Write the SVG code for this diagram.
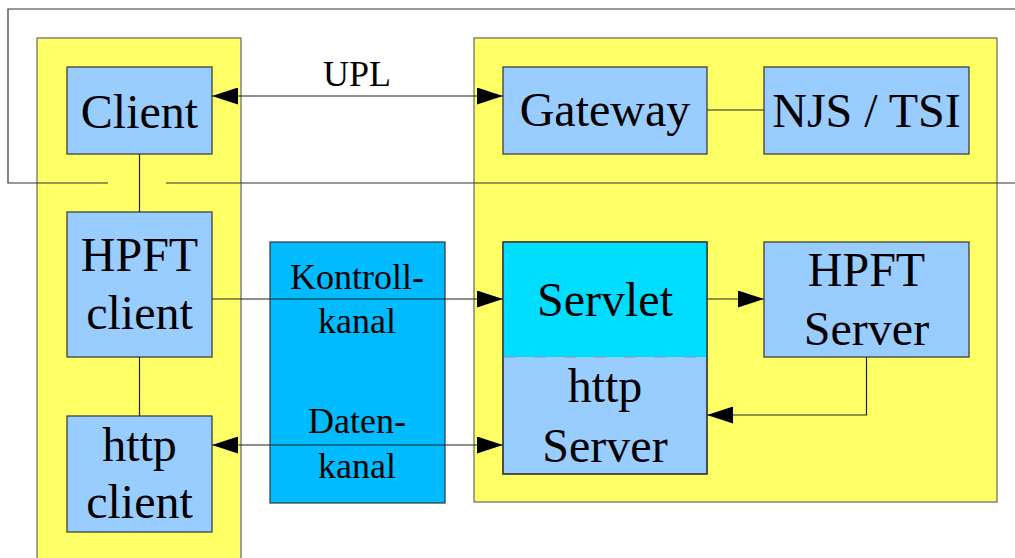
<svg xmlns="http://www.w3.org/2000/svg" width="1015" height="558" viewBox="0 0 1015 558">
  <defs>
    <style>
      .panel { fill: #ffff66; stroke: #666666; stroke-width: 1.2; }
      .box { fill: #99ccff; stroke: #333333; stroke-width: 1.2; }
      .servlet { fill: #00ddff; stroke: none; }
      .channel { fill: #00bbff; stroke: #333333; stroke-width: 1.2; }
      .frame { fill: none; stroke: #333333; stroke-width: 1.2; }
      .wire { fill: none; stroke: #222222; stroke-width: 1.2; }
      .divider { fill: none; stroke: #77aacc; stroke-width: 1.5; stroke-dasharray: 12 18; }
    </style>
    <marker id="arrow" viewBox="0 0 26 17" markerUnits="userSpaceOnUse" markerWidth="26" markerHeight="17" refX="26" refY="8.5" orient="auto-start-reverse">
      <path d="M0,0 L26,8.5 L0,17 z" fill="#000000"/>
    </marker>
  </defs>

  <rect width="1015" height="558" fill="#ffffff"/>

  <!-- client side and server side areas -->
  <g id="client-area">
    <rect class="panel" x="37" y="38" width="204" height="530"/>
  </g>
  <g id="server-area">
    <rect class="panel" x="474" y="38" width="523" height="464"/>
  </g>

  <!-- outer boundary -->
  <g id="boundary">
    <polyline class="frame" points="1020,9 8,9 8,183 108,183"/>
    <line class="frame" x1="166" y1="183" x2="1020" y2="183"/>
  </g>

  <g id="channel-area">
    <rect class="channel" x="270" y="242" width="175" height="261"/>
  </g>

  <!-- connectors -->
  <g id="connectors">
    <line class="wire" x1="139.5" y1="154" x2="139.5" y2="212"/>
    <line class="wire" x1="139.5" y1="357" x2="139.5" y2="416"/>
    <line class="wire" x1="707" y1="110" x2="764" y2="110"/>
    <line class="wire" x1="212" y1="96" x2="503" y2="96" marker-start="url(#arrow)" marker-end="url(#arrow)"/>
    <line class="wire" x1="212" y1="299" x2="503" y2="299" marker-end="url(#arrow)"/>
    <line class="wire" x1="212" y1="445" x2="503" y2="445" marker-start="url(#arrow)" marker-end="url(#arrow)"/>
    <line class="wire" x1="707" y1="299" x2="764" y2="299" marker-end="url(#arrow)"/>
    <polyline class="wire" points="866.5,357 866.5,415 707,415" marker-end="url(#arrow)"/>
  </g>

  <g id="client">
    <rect class="box" x="67" y="67" width="145" height="87"/>
    <text x="139.5" y="128" font-size="48" font-family="Times New Roman, Liberation Serif, serif" text-anchor="middle">Client</text>
  </g>
  <g id="gateway">
    <rect class="box" x="503" y="67" width="204" height="87"/>
    <text x="605" y="126" font-size="48" font-family="Times New Roman, Liberation Serif, serif" text-anchor="middle">Gateway</text>
  </g>
  <g id="njs-tsi">
    <rect class="box" x="764" y="67" width="205" height="87"/>
    <text x="866.5" y="127" font-size="48" font-family="Times New Roman, Liberation Serif, serif" text-anchor="middle">NJS / TSI</text>
  </g>
  <g id="hpft-client">
    <rect class="box" x="67" y="212" width="145" height="145"/>
    <text x="139.5" y="271" font-size="48" font-family="Times New Roman, Liberation Serif, serif" text-anchor="middle">HPFT</text>
    <text x="139.5" y="329" font-size="48" font-family="Times New Roman, Liberation Serif, serif" text-anchor="middle">client</text>
  </g>
  <g id="http-client">
    <rect class="box" x="67" y="416" width="145" height="116"/>
    <text x="139.5" y="461" font-size="48" font-family="Times New Roman, Liberation Serif, serif" text-anchor="middle">http</text>
    <text x="139.5" y="518" font-size="48" font-family="Times New Roman, Liberation Serif, serif" text-anchor="middle">client</text>
  </g>
  <g id="servlet-http-server">
    <rect class="box" x="503" y="242" width="204" height="232"/>
    <rect class="servlet" x="503.6" y="242.6" width="202.8" height="114.4"/>
    <rect x="503" y="242" width="204" height="232" fill="none" stroke="#333333" stroke-width="1.2"/>
    <line class="divider" x1="504" y1="357" x2="706" y2="357"/>
    <text x="605" y="316" font-size="48" font-family="Times New Roman, Liberation Serif, serif" text-anchor="middle">Servlet</text>
    <text x="605" y="402" font-size="48" font-family="Times New Roman, Liberation Serif, serif" text-anchor="middle">http</text>
    <text x="605" y="462" font-size="48" font-family="Times New Roman, Liberation Serif, serif" text-anchor="middle">Server</text>
  </g>
  <g id="hpft-server">
    <rect class="box" x="764" y="242" width="205" height="115"/>
    <text x="866.5" y="286" font-size="48" font-family="Times New Roman, Liberation Serif, serif" text-anchor="middle">HPFT</text>
    <text x="866.5" y="345" font-size="48" font-family="Times New Roman, Liberation Serif, serif" text-anchor="middle">Server</text>
  </g>

  <!-- connector labels -->
  <g id="labels">
    <text x="357" y="86" font-size="36" font-family="Times New Roman, Liberation Serif, serif" text-anchor="middle">UPL</text>
    <text x="357" y="289" font-size="36" font-family="Times New Roman, Liberation Serif, serif" text-anchor="middle">Kontroll-</text>
    <text x="357" y="333" font-size="36" font-family="Times New Roman, Liberation Serif, serif" text-anchor="middle">kanal</text>
    <text x="357" y="433" font-size="36" font-family="Times New Roman, Liberation Serif, serif" text-anchor="middle">Daten-</text>
    <text x="357" y="478" font-size="36" font-family="Times New Roman, Liberation Serif, serif" text-anchor="middle">kanal</text>
  </g>
</svg>
